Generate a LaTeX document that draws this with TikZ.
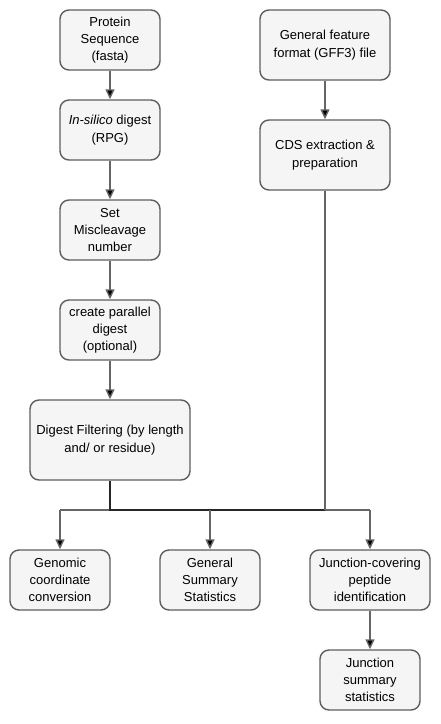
\documentclass[tikz,border=0pt]{standalone}
\usepackage{fontspec}
\setmainfont{Liberation Sans}
\usetikzlibrary{arrows.meta}
\definecolor{boxfill}{HTML}{F5F5F5}
\definecolor{boxline}{HTML}{5E5E5E}
\definecolor{conn}{HTML}{666666}
\begin{document}
\begin{tikzpicture}[x=1pt,y=-1pt,
  box/.style={draw=boxline,line width=1.4pt,fill=boxfill,rounded corners=9pt,
    align=center,inner sep=1pt,font=\fontsize{13}{17.3}\selectfont},
  conline/.style={draw=conn,line width=1.4pt},
  arr/.style={conline,-{Triangle[width=9pt,length=10pt,fill=black]}}]
\useasboundingbox[fill=white] (0,0) rectangle (440,724);
\node[box,minimum width=100pt,minimum height=60pt] (prot) at (110,40) {Protein\\Sequence\\(fasta)};
\node[box,minimum width=100pt,minimum height=60pt] (insil) at (110,130) {\textit{In-silico} digest\\(RPG)};
\node[box,minimum width=100pt,minimum height=60pt] (mis) at (110,230) {Set\\Miscleavage\\number};
\node[box,minimum width=100pt,minimum height=60pt] (par) at (110,330) {create parallel\\digest\\(optional)};
\node[box,minimum width=160pt,minimum height=80pt] (filt) at (110,440) {Digest Filtering (by length\\and/ or residue)};
\node[box,minimum width=130pt,minimum height=70pt] (gff) at (325,45) {General feature\\format (GFF3) file};
\node[box,minimum width=130pt,minimum height=70pt] (cds) at (325,155) {CDS extraction \&\\preparation};
\node[box,minimum width=100pt,minimum height=60pt] (geno) at (60,580) {Genomic\\coordinate\\conversion};
\node[box,minimum width=100pt,minimum height=60pt] (gsum) at (210,580) {General\\Summary\\Statistics};
\node[box,minimum width=120pt,minimum height=60pt] (jcov) at (370,580) {Junction-covering\\peptide\\identification};
\node[box,minimum width=100pt,minimum height=60pt] (jsum) at (370,680) {Junction\\summary\\statistics};
\coordinate (hub) at (110,510);
\coordinate (jl) at (60,510);
\coordinate (jm) at (210,510);
\coordinate (jr) at (325,510);
\coordinate (jrr) at (370,510);
\draw[arr] (prot) -- (insil);
\draw[arr] (insil) -- (mis);
\draw[arr] (mis) -- (par);
\draw[arr] (par) -- (filt);
\draw[arr] (gff) -- (cds);
\draw[conline] (jl) -- (jrr);
\draw[draw=black!85,line width=1.4pt] (filt.south) -- (hub) -- (jr);
\draw[conline] (cds.south) -- (jr);
\draw[arr] (jl) -- (geno.north);
\draw[arr] (jm) -- (gsum.north);
\draw[arr] (jrr) -- (jcov.north);
\draw[arr] (jcov) -- (jsum);
\end{tikzpicture}
\end{document}
